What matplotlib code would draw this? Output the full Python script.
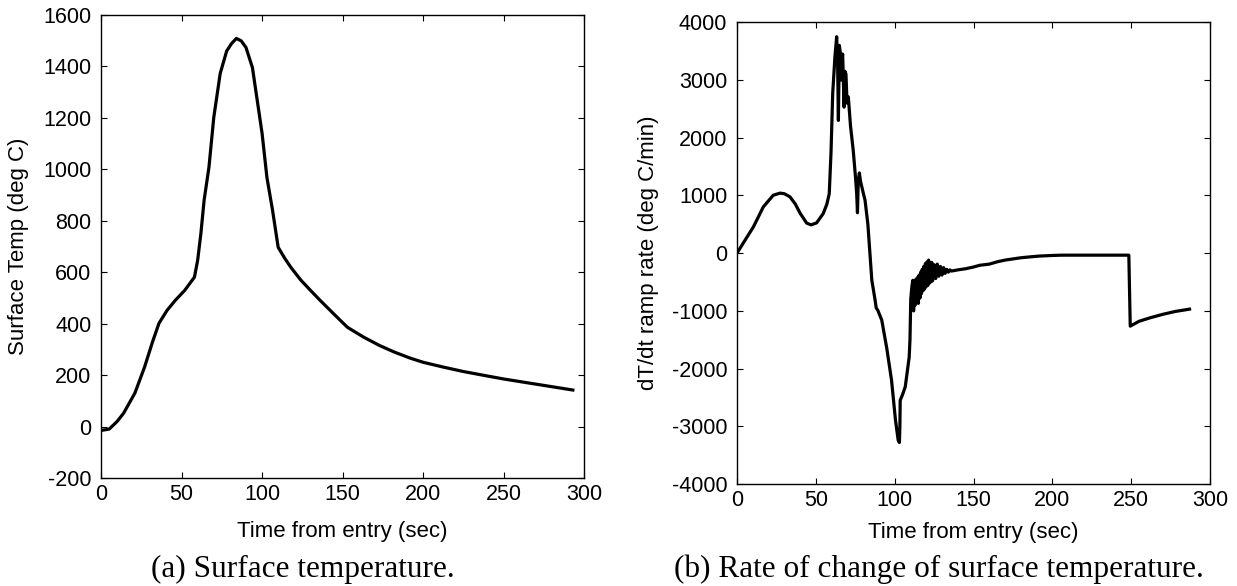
import matplotlib.pyplot as plt
import numpy as np

# Surface temperature
t_temp = [0, 5, 10, 14, 21, 27, 32, 36, 41, 46, 52, 58, 60, 62, 64, 67, 70, 74, 78,
          81, 84, 87, 90, 94, 97, 100, 103, 106.5, 110, 114, 118, 124, 130, 136,
          145, 153, 163, 173, 182, 192, 200, 212, 225, 237, 250, 262, 275, 285, 293]
temp = [-15, -10, 20, 52, 130, 231, 330, 402, 452, 490, 530, 581, 647, 751, 880,
        1008, 1202, 1373, 1460, 1489, 1509, 1500, 1474, 1396, 1268, 1140, 969, 841,
        697, 655, 618, 570, 530, 491, 435, 386, 348, 315, 290, 266, 250, 232, 214,
        200, 185, 173, 160, 150, 142]

# Ramp rate dT/dt, one line per stretch of the curve
t_rate = [0, 5, 10.4, 16.7, 23, 27.3, 30, 33.6, 37, 40, 44.2, 47, 50.5, 54.7, 57, 58.5,
          59.6, 60.7, 62.1, 63.2, 63.8, 64.3, 64.9, 65.4, 66, 66.4, 67, 67.9, 68.5, 69.1,
          69.8, 70.6, 72, 73.7, 75.2, 75.9, 76.4, 76.9, 77.6, 78.3, 80, 81.2, 83,
          85.5, 87.5, 88.3, 89.3, 91.8, 95, 98, 100.5, 102.2, 103, 103.3, 103.5, 105,
          106.7, 108, 109.2, 109.7,
          110.2, 110.5, 111, 111.5, 112, 112.5, 113, 113.5, 114, 114.5, 115, 115.5,
          116, 116.5, 117, 117.5, 118, 118.5, 119, 119.5, 120, 120.5, 121, 121.5, 122,
          122.5, 123, 123.5, 124, 125, 126, 127, 128, 129, 130, 131, 132, 133, 134,
          135, 136,
          140, 145, 150, 154, 160, 165, 170, 175, 180, 186, 192, 200, 206, 211, 220,
          230, 240, 248.5,
          249.4, 255, 262, 270, 278, 287]
rate = [0, 220, 455, 802, 1004, 1040, 1030, 975, 850, 693, 520, 490, 525, 687, 850, 1030,
        1730, 2770, 3400, 3750, 3300, 2300, 3600, 3500, 3000, 3300, 3450, 2530, 3150, 3100,
        2600, 2706, 2200, 1784, 1300, 1030, 700, 1250, 1390, 1250, 1050, 918, 500,
        -469, -800, -950, -990, -1160, -1650, -2200, -2890, -3240, -3280, -3000, -2550, -2450,
        -2316, -2050, -1800, -1500,
        -800, -700, -560, -470, -1000, -500, -900, -450, -850, -420, -870, -380,
        -780, -330, -700, -280, -650, -230, -620, -180, -580, -150, -560, -120, -520,
        -170, -500, -160, -480, -200, -440, -190, -400, -230, -380, -250, -350, -280, -330,
        -290, -310,
        -290, -270, -240, -210, -190, -150, -120, -100, -80, -64, -50, -40, -35, -35, -35,
        -35, -35, -35,
        -1265, -1180, -1120, -1060, -1010, -970]

plt.rcParams['font.family'] = ['Liberation Sans', 'DejaVu Sans']
plt.rcParams['axes.unicode_minus'] = False

fig = plt.figure(figsize=(12.37, 5.86), dpi=100)

def style(ax):
    ax.tick_params(direction='in', top=True, right=True, length=4, width=0.8,
                   labelsize=15.5)
    ax.tick_params(axis='x', pad=4)
    ax.tick_params(axis='y', pad=7)
    for s in ax.spines.values():
        s.set_linewidth(1.0)

ax1 = fig.add_axes([0.0817, 0.1843, 0.3905, 0.790])
ax1.plot(t_temp, temp, color='black', lw=2.3)
ax1.set_xlim(0, 300)
ax1.set_ylim(-200, 1600)
ax1.set_xticks(np.arange(0, 301, 50))
ax1.set_yticks(np.arange(-200, 1601, 200))
ax1.set_xlabel('Time from entry (sec)', fontsize=16, labelpad=12)
ax1.set_ylabel('Surface Temp (deg C)', fontsize=16, labelpad=10)
style(ax1)

ax2 = fig.add_axes([0.5958, 0.174, 0.3824, 0.788])
ax2.plot(t_rate, rate, color='black', lw=2.3)
ax2.set_xlim(0, 300)
ax2.set_ylim(-4000, 4000)
ax2.set_xticks(np.arange(0, 301, 50))
ax2.set_yticks(np.arange(-4000, 4001, 1000))
ax2.set_xlabel('Time from entry (sec)', fontsize=16, labelpad=8)
ax2.set_ylabel('dT/dt ramp rate (deg C/min)', fontsize=16, labelpad=9)
style(ax2)

fig.text(303 / 1237, 1 - 569 / 586, '(a) Surface temperature.', ha='center', va='center',
         family='Liberation Serif', fontsize=22.5)
fig.text(939 / 1237, 1 - 569 / 586, '(b) Rate of change of surface temperature.',
         ha='center', va='center', family='Liberation Serif', fontsize=22.5)

fig.savefig('out.png', dpi=100)
